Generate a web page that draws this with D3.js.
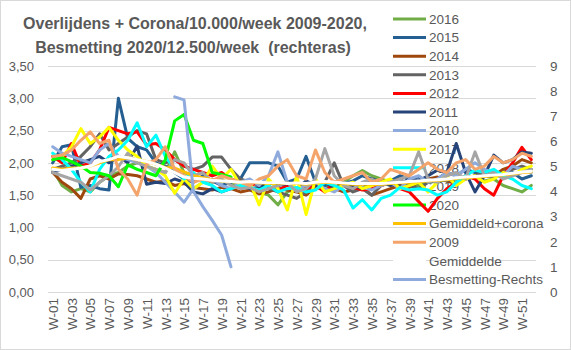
<!DOCTYPE html>
<html>
<head>
<meta charset="utf-8">
<script src="https://cdn.jsdelivr.net/npm/d3@7"></script>
<style>
  html, body { margin: 0; padding: 0; background: #fff; }
  svg { display: block; font-family: "Liberation Sans", Arial, sans-serif; }
</style>
</head>
<body>
<div id="chart"></div>
<script>
const weeks = ['W-01','W-02','W-03','W-04','W-05','W-06','W-07','W-08','W-09','W-10',
  'W-11','W-12','W-13','W-14','W-15','W-16','W-17','W-18','W-19','W-20',
  'W-21','W-22','W-23','W-24','W-25','W-26','W-27','W-28','W-29','W-30',
  'W-31','W-32','W-33','W-34','W-35','W-36','W-37','W-38','W-39','W-40',
  'W-41','W-42','W-43','W-44','W-45','W-46','W-47','W-48','W-49','W-50',
  'W-51','W-52'];
const weekLabels = ['W-01','W-03','W-05','W-07','W-09','W-11','W-13','W-15','W-17','W-19',
  'W-21','W-23','W-25','W-27','W-29','W-31','W-33','W-35','W-37','W-39',
  'W-41','W-43','W-45','W-47','W-49','W-51'];
const leftTicks = [0, 0.5, 1, 1.5, 2, 2.5, 3, 3.5];
const rightTicks = [0, 1, 2, 3, 4, 5, 6, 7, 8, 9];

// per 10.000 inwoners per week
const s2016 = [1.90,1.65,1.55,1.60,1.55,1.70,1.80,1.85,1.95,2.00,1.95,1.90,1.85,2.17,1.85,1.80,1.75,1.70,1.72,1.68,
  1.65,1.60,1.55,1.50,1.35,1.55,1.60,1.58,1.62,1.65,1.60,1.70,1.80,1.88,1.80,1.75,1.70,1.72,1.68,1.65,
  1.70,1.72,1.75,1.70,1.80,1.78,1.72,1.75,1.65,1.60,1.55,1.65];
const s2015 = [2.00,2.25,2.28,1.62,1.65,1.60,1.58,3.00,2.38,2.25,2.20,2.00,1.95,1.85,1.75,1.70,1.80,1.72,1.65,1.70,
  1.75,2.00,2.00,2.00,1.95,1.70,1.75,2.10,1.70,1.65,1.70,1.68,1.72,1.80,1.75,1.70,1.72,1.80,1.75,1.78,
  1.70,1.75,1.85,1.80,1.90,1.85,1.80,1.78,1.82,1.85,1.75,1.80];
const s2014 = [1.85,1.70,1.60,1.45,1.75,1.80,1.75,1.83,1.82,1.80,1.75,1.70,1.72,1.65,1.68,1.62,1.60,1.58,1.62,1.60,
  1.55,1.58,1.52,1.55,1.60,1.58,1.55,1.50,1.62,1.58,1.60,1.55,1.58,1.62,1.50,1.55,1.60,1.65,1.62,1.70,
  1.75,1.78,1.72,1.68,1.75,1.80,1.85,1.80,1.90,1.95,2.05,2.00];
const s2013 = [1.90,1.95,2.00,2.10,2.25,2.45,2.20,2.30,2.40,2.50,2.45,2.05,2.00,2.05,1.95,1.90,1.95,2.09,2.09,1.90,
  1.75,1.70,1.65,1.60,1.55,1.50,1.45,1.55,1.60,1.70,2.00,1.65,1.55,1.60,1.50,1.65,1.70,1.75,1.65,1.60,
  1.70,1.75,1.72,1.78,1.75,1.80,1.85,1.80,1.85,1.90,1.95,1.90];
const s2012 = [2.10,2.00,2.30,1.95,2.00,2.20,2.55,2.50,2.45,2.48,2.28,2.30,2.20,2.05,1.95,1.90,1.85,1.80,1.85,1.75,
  1.70,1.65,1.70,1.62,1.58,1.65,1.70,1.60,1.65,1.55,1.70,1.68,1.62,1.58,1.60,1.65,1.70,1.60,1.55,1.40,
  1.25,1.45,1.60,1.70,1.80,1.75,1.60,1.50,1.80,2.00,2.24,2.05];
const s2011 = [1.85,1.90,1.95,2.00,2.05,2.10,2.00,2.10,2.00,2.26,1.67,1.70,1.68,1.75,1.70,1.55,1.52,1.60,1.55,1.60,
  1.65,1.60,1.62,1.70,1.65,1.68,1.60,1.72,1.65,1.70,1.62,1.68,1.65,1.60,1.75,1.70,1.65,1.68,1.75,1.72,
  1.80,1.89,1.85,2.30,1.85,1.55,1.80,2.12,2.00,2.05,2.17,2.15];
const s2010 = [2.25,2.15,2.10,2.05,2.00,2.20,2.30,2.10,2.05,2.00,1.95,1.85,1.70,1.55,1.39,1.60,1.70,1.75,1.65,1.60,
  1.70,1.75,1.65,1.80,2.17,1.70,1.60,1.65,1.70,1.60,1.55,1.65,1.70,1.62,1.58,1.65,1.70,1.60,1.75,1.80,
  1.70,1.75,1.85,1.80,1.90,2.00,1.90,1.85,1.80,1.95,1.90,1.85];
const s2017 = [2.05,2.10,2.25,2.53,2.30,2.40,2.55,2.35,2.20,2.10,1.95,1.90,1.80,1.53,1.75,1.60,1.70,1.95,1.75,1.90,
  1.65,1.70,1.35,1.75,1.60,1.27,1.80,1.20,1.75,1.55,1.60,1.65,1.70,1.60,1.65,1.70,1.75,1.60,1.65,1.70,
  1.55,1.70,1.80,1.65,1.75,1.80,1.70,1.75,1.85,1.80,1.90,1.95];
const s2018 = [2.15,2.05,1.90,1.70,1.55,1.90,2.10,2.20,2.35,2.62,2.25,2.43,2.10,1.90,1.75,1.85,1.70,1.65,1.55,1.60,
  1.65,1.62,1.58,1.65,1.55,1.60,1.62,1.55,1.58,1.70,1.65,1.58,1.30,1.43,1.27,1.45,1.50,1.62,1.58,1.60,
  1.58,1.50,1.55,1.70,1.80,1.89,1.85,1.90,1.80,1.75,1.65,1.60];
const s2019 = [1.85,1.80,1.75,1.70,1.58,1.70,1.80,1.94,2.15,2.00,1.95,1.90,1.85,2.05,2.00,1.80,1.85,1.70,1.75,1.65,
  1.60,1.62,1.55,1.60,1.65,1.70,1.55,1.60,1.75,2.22,1.80,1.65,1.60,1.70,1.75,1.65,1.70,1.75,1.80,2.17,
  1.75,1.70,1.80,1.85,1.75,2.17,1.80,1.85,1.75,1.80,1.85,1.90];
const s2020 = [2.05,2.08,2.02,1.95,1.85,1.84,1.80,1.63,1.97,1.90,1.85,1.80,2.05,2.65,2.75,2.35,2.30,1.85,1.82,1.78];
const gemCorona = [1.92,1.90,1.92,1.92,1.95,2.00,2.05,2.05,2.08,2.05,2.02,1.98,1.93,1.92,1.86,1.80,1.77,1.74,1.72,1.71,
  1.70,1.70,1.69,1.68,1.69,1.68,1.68,1.67,1.69,1.70,1.69,1.68,1.67,1.67,1.67,1.67,1.68,1.69,1.70,1.71,
  1.72,1.73,1.74,1.76,1.77,1.78,1.79,1.80,1.81,1.83,1.85,1.86];
const s2009 = [2.10,2.12,2.20,2.35,2.48,2.30,2.35,1.90,1.75,1.50,1.98,2.05,2.25,1.90,1.80,1.70,1.75,1.72,1.80,1.75,
  1.70,1.65,1.75,1.80,1.95,2.05,1.80,1.75,2.20,1.85,1.70,1.75,1.80,1.85,1.70,1.75,1.90,1.85,1.80,1.90,
  2.00,1.90,1.85,2.00,2.05,1.90,1.95,2.10,2.00,2.05,2.15,2.10];
const gemiddelde = [1.90,1.88,1.90,1.92,1.95,2.02,2.05,2.10,2.08,2.05,2.02,1.98,1.92,1.85,1.78,1.76,1.75,1.73,1.72,1.71,
  1.70,1.71,1.70,1.69,1.70,1.68,1.69,1.68,1.70,1.71,1.70,1.69,1.68,1.68,1.68,1.68,1.69,1.70,1.71,1.72,
  1.73,1.74,1.75,1.77,1.78,1.79,1.80,1.81,1.82,1.84,1.86,1.87];
// besmettingen per 12.500 per week, rechteras (vanaf W-14)
const besmetting = [null,null,null,null,null,null,null,null,null,null,null,null,null,
  7.77,7.65,4.00,3.40,2.85,2.27,1.00];

const SERIES = [
  { name: '2016', values: s2016, color: '#70ad47' },
  { name: '2015', values: s2015, color: '#255e91' },
  { name: '2014', values: s2014, color: '#9e480e' },
  { name: '2013', values: s2013, color: '#636363' },
  { name: '2012', values: s2012, color: '#ff0000' },
  { name: '2011', values: s2011, color: '#264478' },
  { name: '2010', values: s2010, color: '#8faadc' },
  { name: '2017', values: s2017, color: '#ffff00' },
  { name: '2018', values: s2018, color: '#00ffff' },
  { name: '2019', values: s2019, color: '#a5a5a5' },
  { name: '2020', values: s2020, color: '#00ff00' },
  { name: 'Gemiddeld+corona', values: gemCorona, color: '#ffc000' },
  { name: '2009', values: s2009, color: '#f4a46a' },
  { name: 'Gemiddelde', values: gemiddelde, color: '#ffffff' },
  { name: 'Besmetting-Rechts', values: besmetting, color: '#8faadc', right: true },
];

(() => {
  const COLORS = { text: '#595959', grid: '#d9d9d9', border: '#d9d9d9' };
  const width = 571;
  const height = 350;
  const plot = { left: 48, right: 536, top: 66, bottom: 292 };

  const svg = d3.select('#chart').append('svg').attr('width', width).attr('height', height);

  svg.append('rect')
    .attr('x', 0.5).attr('y', 0.5)
    .attr('width', width - 1).attr('height', height - 1)
    .attr('fill', '#fff').attr('stroke', COLORS.border);

  const x = d3.scalePoint().domain(weeks).range([plot.left, plot.right]).padding(0.5);
  const y = d3.scaleLinear().domain([0, 3.5]).range([plot.bottom, plot.top]);
  const yRight = d3.scaleLinear().domain([0, 9]).range([plot.bottom, plot.top]);
  const comma = (v) => d3.format('.2f')(v).replace('.', ',');

  // gridlines
  svg.append('g').selectAll('line')
    .data(leftTicks)
    .enter()
    .append('line')
    .attr('x1', plot.left).attr('x2', plot.right)
    .attr('y1', (d) => Math.round(y(d)) + 0.5).attr('y2', (d) => Math.round(y(d)) + 0.5)
    .attr('stroke', COLORS.grid);

  const leftAxis = svg.append('g')
    .attr('transform', 'translate(34,0)')
    .call(d3.axisLeft(y).tickValues(leftTicks).tickFormat(comma).tickSize(0).tickPadding(0));
  leftAxis.select('.domain').remove();
  leftAxis.selectAll('text').attr('fill', COLORS.text).style('font-size', '13px').style('font-family', null);

  const rightAxis = svg.append('g')
    .attr('transform', 'translate(550,0)')
    .call(d3.axisRight(yRight).tickValues(rightTicks).tickSize(0).tickPadding(0));
  rightAxis.select('.domain').remove();
  rightAxis.selectAll('text').attr('fill', COLORS.text).style('font-size', '13.5px').style('font-family', null);

  const bottomAxis = svg.append('g')
    .attr('transform', 'translate(0,298)')
    .call(d3.axisBottom(x).tickValues(weekLabels).tickSize(0).tickPadding(0));
  bottomAxis.select('.domain').remove();
  bottomAxis.selectAll('text')
    .attr('fill', COLORS.text)
    .attr('transform', 'rotate(-90)')
    .attr('x', 0).attr('y', 0).attr('dy', '0.35em')
    .attr('text-anchor', 'end')
    .style('font-size', '13.5px').style('font-family', null);

  // title
  const title = svg.append('text')
    .attr('x', 195)
    .attr('fill', COLORS.text)
    .attr('text-anchor', 'middle')
    .style('font-size', '16px')
    .style('font-weight', 'bold')
    .style('white-space', 'pre');
  title.append('tspan').attr('x', 195).attr('y', 29).text('Overlijdens + Corona/10.000/week 2009-2020,');
  title.append('tspan').attr('x', 193).attr('y', 53).text('Besmetting 2020/12.500/week  (rechteras)');

  renderLegend(svg, SERIES, COLORS.text);

  const line = (scale) => d3.line()
    .defined((d) => d != null)
    .x((d, i) => x(weeks[i]))
    .y((d) => scale(d));

  svg.append('g').selectAll('path')
    .data(SERIES)
    .enter()
    .append('path')
    .attr('d', (s) => line(s.right ? yRight : y)(s.values))
    .attr('fill', 'none')
    .attr('stroke', (s) => s.color)
    .attr('stroke-width', 3)
    .attr('stroke-linejoin', 'round')
    .attr('stroke-linecap', 'round');

  function renderLegend(root, entries, textColor) {
    const legend = root.append('g');
    entries.forEach((s, i) => {
      const cy = 19 + i * 18.6;
      legend.append('line')
        .attr('x1', 393).attr('x2', 426)
        .attr('y1', cy).attr('y2', cy)
        .attr('stroke', s.color).attr('stroke-width', 3);
      legend.append('text')
        .attr('x', 429).attr('y', cy).attr('dy', '0.35em')
        .attr('fill', textColor)
        .style('font-size', '13.5px')
        .text(s.name);
    });
  }
})();
</script>
</body>
</html>
